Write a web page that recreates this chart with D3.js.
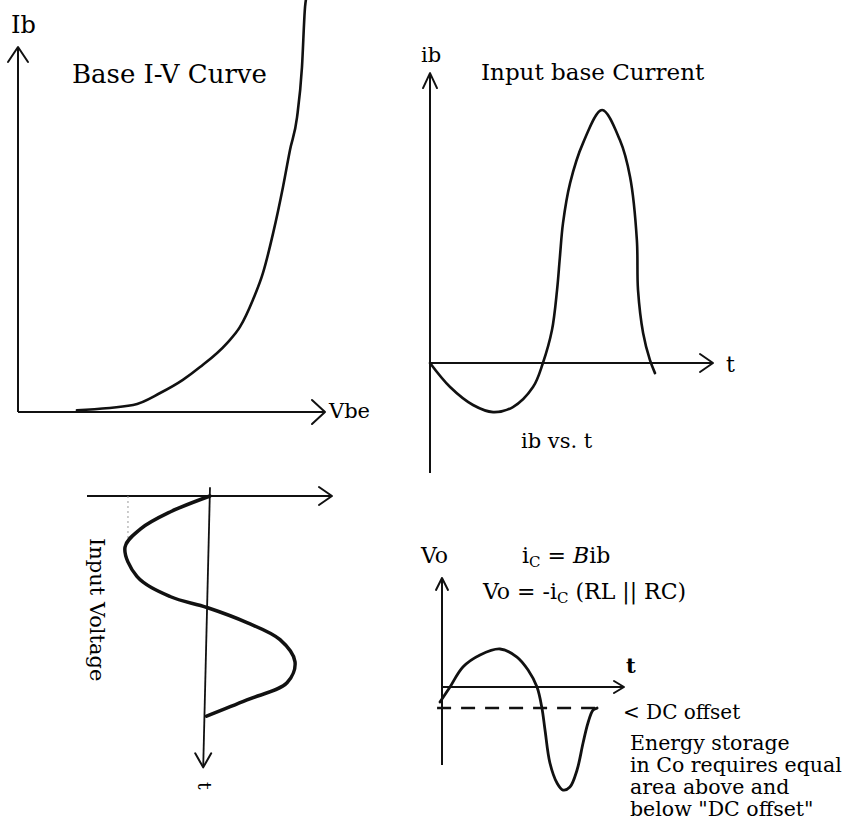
<!DOCTYPE html>
<html>
<head>
<meta charset="utf-8">
<script src="https://cdn.jsdelivr.net/npm/d3@7"></script>
<style>
  body { margin: 0; background: #fff; }
  svg { display: block; }
  text { font-family: "DejaVu Serif", serif; fill: #000; }
</style>
</head>
<body>
<svg id="chart" width="847" height="827"></svg>
<script>
// Base I-V curve (Vbe in volts, Ib in arbitrary units)
var vbeVals = [0.192, 0.375, 0.463, 0.537, 0.593, 0.681, 0.723, 0.765, 0.798, 0.831, 0.863, 0.886, 0.909, 0.925, 0.935, 0.94];
var ibVals  = [0.5, 1.9, 5.2, 8.8, 12.3, 18.9, 23.3, 30.7, 38.1, 49.0, 61.6, 71.8, 80.8, 94.5, 111, 114];

// Input base current vs t
var tBase  = [0, 0.071, 0.152, 0.223, 0.293, 0.364, 0.399, 0.431, 0.449, 0.459, 0.47, 0.495, 0.541, 0.608, 0.671, 0.707, 0.731, 0.735, 0.753, 0.777, 0.795];
var ibBase = [0, -0.095, -0.166, -0.194, -0.174, -0.095, 0, 0.13, 0.289, 0.419, 0.553, 0.711, 0.87, 1.0, 0.881, 0.735, 0.486, 0.289, 0.119, 0.012, -0.04];

// Input voltage (time runs downwards)
var tIn = [0, 0.073, 0.151, 0.234, 0.367, 0.459, 0.509, 0.578, 0.656, 0.757, 0.853, 0.931, 1.005];
var vIn = [0, -0.47, -0.82, -1, -0.86, -0.47, -0.035, 0.435, 0.824, 1, 0.906, 0.435, -0.04];

// Output voltage vs t
var tOut = [-0.011, 0.044, 0.115, 0.209, 0.319, 0.412, 0.473, 0.522, 0.549, 0.566, 0.593, 0.632, 0.665, 0.703, 0.742, 0.775, 0.802, 0.83, 0.852];
var vOut = [-0.395, 0, 0.526, 0.842, 1.0, 0.789, 0.447, 0, -0.553, -1.132, -2.0, -2.526, -2.711, -2.632, -2.184, -1.474, -0.947, -0.605, -0.553];
var dcOffset = -0.553;

var notes = ["Energy storage", "in Co requires equal", "area above and", "below \"DC offset\""];

var svg = d3.select("#chart");
svg.append("rect").attr("width", 847).attr("height", 827).attr("fill", "#fff");

function zip(a, b) { return a.map(function(d, i) { return [d, b[i]]; }); }

// open chevron arrow head at (x,y) pointing in direction (dx,dy)
function arrow(g, x, y, dx, dy, len, half, w) {
  var n = Math.sqrt(dx * dx + dy * dy); dx /= n; dy /= n;
  var px = -dy, py = dx;
  var bx = x - dx * len, by = y - dy * len;
  g.append("path")
    .attr("d", "M" + (bx + px * half) + "," + (by + py * half) + "L" + x + "," + y + "L" + (bx - px * half) + "," + (by - py * half))
    .attr("fill", "none").attr("stroke", "#111").attr("stroke-width", w || 2)
    .attr("stroke-linecap", "round").attr("stroke-linejoin", "round");
}
function seg(g, x1, y1, x2, y2, w) {
  return g.append("line").attr("x1", x1).attr("y1", y1).attr("x2", x2).attr("y2", y2)
    .attr("stroke", "#111").attr("stroke-width", w || 2);
}
function curve(g, pts, w, c) {
  g.append("path").attr("d", d3.line().curve(c || d3.curveCatmullRom.alpha(0.5))(pts))
    .attr("fill", "none").attr("stroke", "#111").attr("stroke-width", w)
    .attr("stroke-linecap", "round").attr("stroke-linejoin", "round");
}

// ---- Panel 1: Base I-V Curve
var x1 = d3.scaleLinear().domain([0, 1]).range([18, 325]);
var y1 = d3.scaleLinear().domain([0, 100]).range([412, 47]);
var g1 = svg.append("g");
seg(g1, x1(0), y1(0), x1(0), y1(100));
arrow(g1, x1(0), y1(100), 0, -1, 15, 10);
seg(g1, x1(0), y1(0), x1(1), y1(0));
arrow(g1, x1(1), y1(0), 1, 0, 13, 12);
curve(g1, zip(vbeVals, ibVals).map(function(d) { return [x1(d[0]), y1(d[1])]; }), 2.6, d3.curveMonotoneX);
g1.append("text").attr("x", 11).attr("y", 33).attr("font-size", 24).text("Ib");
g1.append("text").attr("x", 329).attr("y", 418).attr("font-size", 21).text("Vbe");
g1.append("text").attr("x", 72).attr("y", 83).attr("font-size", 26).text("Base I-V Curve");

// ---- Panel 2: Input base current
var x2 = d3.scaleLinear().domain([0, 1]).range([430, 713]);
var y2 = d3.scaleLinear().domain([0, 1]).range([363, 110]);
var g2 = svg.append("g");
seg(g2, x2(0), y2(-0.435), x2(0), y2(1.146));
arrow(g2, x2(0), y2(1.146), 0, -1, 15, 7);
seg(g2, x2(0), y2(0), x2(1), y2(0));
arrow(g2, x2(1), y2(0), 1, 0, 13, 9);
curve(g2, zip(tBase, ibBase).map(function(d) { return [x2(d[0]), y2(d[1])]; }), 2.6);
g2.append("text").attr("x", 421).attr("y", 62).attr("font-size", 21).text("ib");
g2.append("text").attr("x", 726).attr("y", 372).attr("font-size", 22).text("t");
g2.append("text").attr("x", 481).attr("y", 80).attr("font-size", 23).text("Input base Current");
g2.append("text").attr("x", 521).attr("y", 448).attr("font-size", 21).text("ib vs. t");

// ---- Panel 3: Input voltage
var x3 = d3.scaleLinear().domain([-1, 1]).range([125, 295]);
var y3 = d3.scaleLinear().domain([0, 1]).range([496, 715]);
var g3 = svg.append("g");
seg(g3, x3(-1.447), y3(0), x3(1.435), y3(0));
arrow(g3, x3(1.435), y3(0), 1, 0, 13, 9);
seg(g3, x3(0), y3(-0.04), x3(-0.08), y3(1.239), 1.8);
arrow(g3, x3(-0.08), y3(1.239), 0, 1, 14, 8);
g3.append("line").attr("x1", x3(-0.965)).attr("y1", y3(0)).attr("x2", x3(-0.965)).attr("y2", y3(0.22))
  .attr("stroke", "#999").attr("stroke-width", 1).attr("stroke-dasharray", "2,3");
curve(g3, zip(vIn, tIn).map(function(d) { return [x3(d[0]), y3(d[1])]; }), 3.5);
g3.append("text").attr("transform", "translate(90,538) rotate(90)").attr("font-size", 21).text("Input Voltage");
g3.append("text").attr("transform", "translate(198,782) rotate(90)").attr("font-size", 19).text("t");

// ---- Panel 4: Output voltage
var x4 = d3.scaleLinear().domain([0, 1]).range([442, 624]);
var y4 = d3.scaleLinear().domain([0, 1]).range([687, 649]);
var g4 = svg.append("g");
seg(g4, x4(0), y4(-2.05), x4(0), y4(2.87));
arrow(g4, x4(0), y4(2.87), 0, -1, 12, 6);
seg(g4, x4(0), y4(0), x4(1), y4(0));
arrow(g4, x4(1), y4(0), 1, 0, 10, 6);
g4.append("line").attr("x1", x4(-0.027)).attr("y1", y4(dcOffset)).attr("x2", x4(0.89)).attr("y2", y4(dcOffset))
  .attr("stroke", "#111").attr("stroke-width", 2.5).attr("stroke-dasharray", "14,10");
curve(g4, zip(tOut, vOut).map(function(d) { return [x4(d[0]), y4(d[1])]; }), 2.8);

g4.append("text").attr("x", 626).attr("y", 673).attr("font-size", 21).attr("font-weight", "bold").text("t");
g4.append("text").attr("x", 421).attr("y", 563).attr("font-size", 22).text("Vo");

var eq1 = g4.append("text").attr("x", 522).attr("y", 563).attr("font-size", 22);
eq1.append("tspan").text("i");
eq1.append("tspan").attr("font-size", 15).attr("dy", 4).text("C");
eq1.append("tspan").attr("dy", -4).text(" = ");
eq1.append("tspan").attr("font-style", "italic").text("B");
eq1.append("tspan").text("ib");

var eq2 = g4.append("text").attr("x", 483).attr("y", 599).attr("font-size", 22);
eq2.append("tspan").text("Vo = -i");
eq2.append("tspan").attr("font-size", 15).attr("dy", 4).text("C");
eq2.append("tspan").attr("dy", -4).text(" (RL || RC)");

g4.append("text").attr("x", 623).attr("y", 719).attr("font-size", 20).text("< DC offset");

g4.selectAll(".note").data(notes).enter().append("text")
  .attr("class", "note")
  .attr("x", 630).attr("y", function(d, i) { return 750 + i * 22; })
  .attr("font-size", 20.5).text(function(d) { return d; });
</script>
</body>
</html>
